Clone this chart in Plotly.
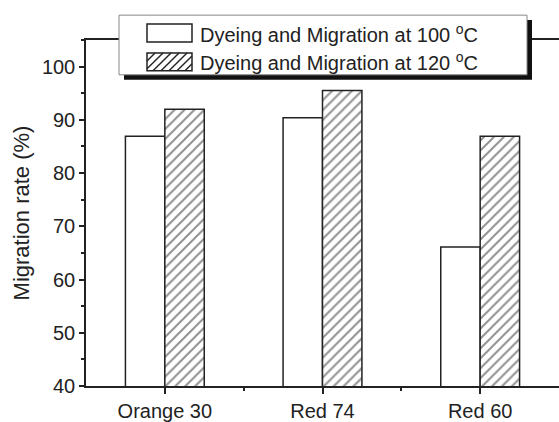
import plotly.graph_objects as go

# ---- data ----
categories = ["Orange 30", "Red 74", "Red 60"]
rate_100C = [86.9, 90.4, 66.1]
rate_120C = [92.0, 95.5, 86.9]
series_names = ["Dyeing and Migration at 100 <sup>o</sup>C",
                "Dyeing and Migration at 120 <sup>o</sup>C"]
y_ticks = [40, 50, 60, 70, 80, 90, 100]

FONT = "Liberation Sans, Arial, sans-serif"
INK = "#222222"

W, H = 559, 422
ML, MR, MT, MB = 86, 0, 40, 34
PW, PH = W - ML - MR, H - MT - MB


def px(x):
    return (x - ML) / PW


def py(y):
    return (H - MB - y) / PH


xpos = list(range(len(categories)))

fig = go.Figure()
fig.add_trace(go.Bar(
    x=xpos, y=rate_100C, name=series_names[0], showlegend=False,
    marker=dict(color="white", line=dict(color=INK, width=1.5)),
))
fig.add_trace(go.Bar(
    x=xpos, y=rate_120C, name=series_names[1], showlegend=False,
    marker=dict(color="white", line=dict(color=INK, width=1.5),
                pattern=dict(shape="/", size=7, solidity=0.28,
                             fgcolor=INK, bgcolor="white")),
))

# ---- manual legend (box with drop shadow) ----
shapes = []
bx0, bx1, by0, by1 = 119, 527, 15, 75
shapes.append(dict(type="rect", xref="paper", yref="paper", layer="above",
                   x0=px(bx0 + 5), x1=px(bx1 + 5), y0=py(by1 + 5), y1=py(by0 + 5),
                   fillcolor="#111111", line=dict(width=0)))
shapes.append(dict(type="rect", xref="paper", yref="paper", layer="above",
                   x0=px(bx0), x1=px(bx1), y0=py(by1), y1=py(by0),
                   fillcolor="white", line=dict(color="#888888", width=1)))

sw_x0, sw_x1 = 147, 192
rows = [(24, 42), (53, 71)]
for i, (t, b) in enumerate(rows):
    shapes.append(dict(type="rect", xref="paper", yref="paper", layer="above",
                       x0=px(sw_x0), x1=px(sw_x1), y0=py(b), y1=py(t),
                       fillcolor="white", line=dict(color=INK, width=1.5)))
    if i == 1:
        h = b - t
        start = sw_x0 - h
        while start < sw_x1:
            xa, ya = start, b
            xb, yb = start + h, t
            if xa < sw_x0:
                ya -= (sw_x0 - xa)
                xa = sw_x0
            if xb > sw_x1:
                yb += (xb - sw_x1)
                xb = sw_x1
            if xb > xa:
                shapes.append(dict(type="line", xref="paper", yref="paper", layer="above",
                                   x0=px(xa), x1=px(xb), y0=py(ya), y1=py(yb),
                                   line=dict(color=INK, width=1.4)))
            start += 8
    fig.add_annotation(xref="paper", yref="paper", x=px(198), y=py((t + b) / 2),
                       xanchor="left", yanchor="middle", showarrow=False,
                       text=series_names[i],
                       font=dict(family=FONT, size=20, color=INK))

fig.update_layout(
    width=W, height=H,
    margin=dict(l=ML, r=MR, t=MT, b=MB),
    paper_bgcolor="white", plot_bgcolor="white",
    barmode="group", bargap=0.5, bargroupgap=0,
    shapes=shapes,
    font=dict(family=FONT, size=20, color=INK),
)
fig.update_xaxes(
    range=[-0.5, 2.5], tickmode="array", tickvals=xpos, ticktext=categories,
    showgrid=False, zeroline=False,
    showline=True, linecolor=INK, linewidth=1.5, mirror=True,
    ticks="outside", ticklen=6, tickwidth=1.5, tickcolor=INK,
    minor=dict(tickmode="array", tickvals=[0.5, 1.5], ticks="outside",
               ticklen=3, tickwidth=1.5, tickcolor=INK),
    tickfont=dict(family=FONT, size=20, color=INK),
)
fig.update_yaxes(
    range=[40, 105], tickmode="array", tickvals=y_ticks,
    showgrid=False, zeroline=False,
    showline=True, linecolor=INK, linewidth=1.5,
    ticks="outside", ticklen=5, tickwidth=1.5, tickcolor=INK,
    minor=dict(dtick=5, tick0=0, ticks="outside", ticklen=3, tickwidth=1.5,
               tickcolor=INK),
    tickfont=dict(family=FONT, size=20, color=INK),
    title=dict(text="Migration rate (%)", standoff=6,
               font=dict(family=FONT, size=22, color=INK)),
)

fig.write_html("out.html")
